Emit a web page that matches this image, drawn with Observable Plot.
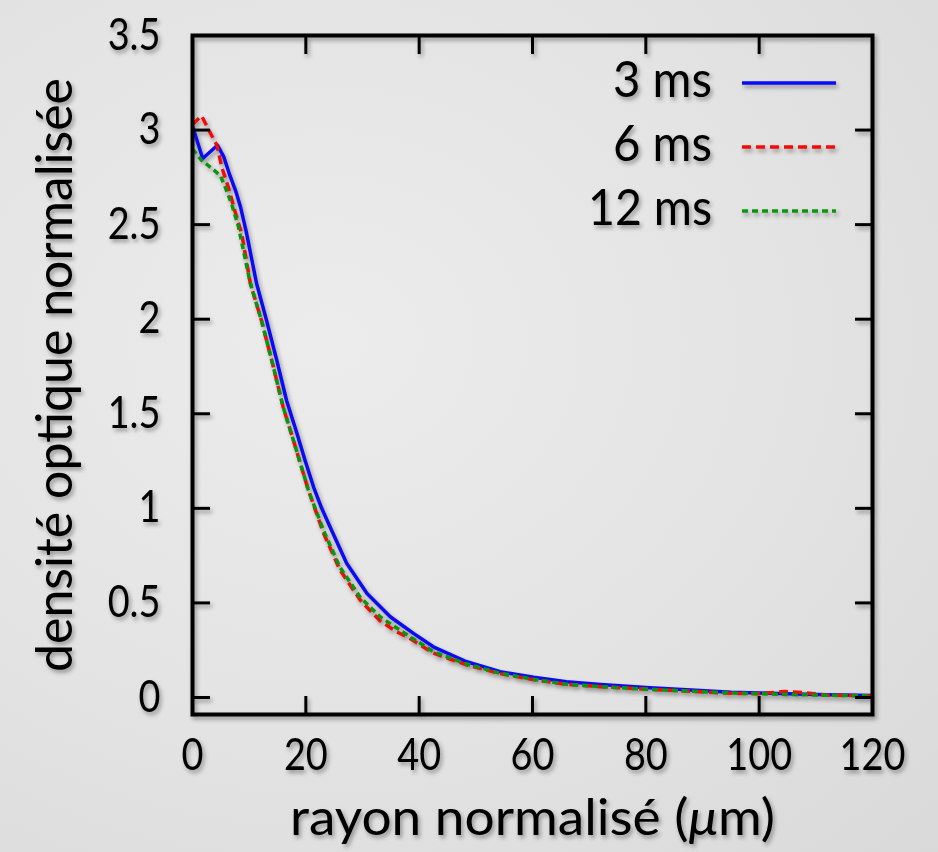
<!DOCTYPE html>
<html><head><meta charset="utf-8">
<script src="https://cdn.jsdelivr.net/npm/d3@7"></script>
<script src="https://cdn.jsdelivr.net/npm/@observablehq/plot@0.6"></script>
<style>
html,body{margin:0;padding:0;}
body{width:938px;height:852px;overflow:hidden;background:radial-gradient(ellipse at 35% 40%, #ececec 0%, #e3e3e3 55%, #d9d9d9 100%);}
#chart svg{display:block;filter:drop-shadow(2px 3px 2px rgba(0,0,0,0.35));}
</style></head><body><div id="chart"></div>
<script>
// ---- data ----
const seriesNames = ["3 ms", "6 ms", "12 ms"];
const seriesColors = ["#0a0af5", "#f50a0a", "#0a960a"];
const seriesDash = [null, "9,5", "6,4"];

const x3ms = [0, 1.8, 4.4, 5.5, 6.6, 7.6, 8.5, 9.5, 11.3, 13.1, 14.9, 16.6, 18.4, 19.9, 21.4, 22.8, 24.3, 27.2, 30.8, 34.9, 39.0, 42.5, 48.4, 54.3, 60.2, 66.0, 72.0, 80.7, 88, 95, 105, 112, 120];
const y3ms = [3.02, 2.85, 2.92, 2.86, 2.76, 2.68, 2.59, 2.46, 2.19, 1.99, 1.78, 1.57, 1.40, 1.25, 1.11, 1.00, 0.90, 0.71, 0.55, 0.427, 0.339, 0.268, 0.189, 0.136, 0.107, 0.083, 0.068, 0.052, 0.040, 0.028, 0.020, 0.015, 0.010];

const x6ms = [0, 1.6, 3.4, 4.3, 5.2, 6.3, 7.5, 8.7, 10.2, 12.2, 14.0, 16.0, 17.8, 20.45, 23.1, 26.0, 29.6, 33.1, 36.05, 38.3, 42.5, 48.4, 54.3, 60.2, 66, 72, 80.7, 88, 95, 100, 104.5, 108, 112, 120];
const y6ms = [3.03, 3.075, 2.97, 2.92, 2.80, 2.70, 2.57, 2.45, 2.19, 1.99, 1.78, 1.535, 1.36, 1.096, 0.87, 0.675, 0.515, 0.405, 0.347, 0.313, 0.235, 0.172, 0.126, 0.094, 0.07, 0.057, 0.043, 0.033, 0.022, 0.020, 0.032, 0.025, 0.012, 0.008];

const x12ms = [0, 1.6, 3.7, 4.9, 5.75, 6.9, 8.1, 10.2, 12.2, 14.0, 16.0, 17.8, 20.45, 23.1, 26.0, 29.6, 33.1, 36.6, 42.5, 48.4, 54.3, 60.2, 66, 72, 80.7, 88, 95, 105, 112, 120];
const y12ms = [2.9, 2.84, 2.79, 2.76, 2.70, 2.61, 2.49, 2.19, 1.99, 1.78, 1.535, 1.36, 1.096, 0.884, 0.69, 0.53, 0.427, 0.356, 0.242, 0.177, 0.128, 0.096, 0.07, 0.057, 0.043, 0.033, 0.024, 0.016, 0.012, 0.008];

const xTicks = [0, 20, 40, 60, 80, 100, 120];
const yTicks = [0, 0.5, 1, 1.5, 2, 2.5, 3, 3.5];
const yTickLabels = ["0", "0.5", "1", "1.5", "2", "2.5", "3", "3.5"];
const xDomain = [0, 120];
const yDomain = [-0.09, 3.5];
const xLabel = "rayon normalisé (μm)";
const yLabel = "densité optique normalisée";

// ---- build tables ----
const seriesX = [x3ms, x6ms, x12ms];
const seriesY = [y3ms, y6ms, y12ms];
const tables = seriesNames.map((name, s) => seriesX[s].map((x, i) => ({x, y: seriesY[s][i], series: name})));

function legendMark(index, scales, values, dims) {
  const g = d3.create("svg:g").attr("class", "legend");
  const right = dims.width - dims.marginRight;
  seriesNames.forEach((name, i) => {
    const yy = dims.marginTop + 48 + i * 64;
    g.append("text").attr("x", right - 160).attr("y", yy).attr("dy", "0.27em")
      .attr("text-anchor", "end").attr("font-size", 50).attr("fill", "black")
      .text(name);
    const ln = g.append("line").attr("x1", right - 130).attr("x2", right - 36)
      .attr("y1", yy).attr("y2", yy).attr("stroke", seriesColors[i]).attr("stroke-width", 3.5);
    if (seriesDash[i]) ln.attr("stroke-dasharray", seriesDash[i]);
  });
  return g.node();
}

const chart = Plot.plot({
  width: 938, height: 852,
  marginLeft: 192, marginRight: 66, marginTop: 35, marginBottom: 138,
  style: {background: "transparent", fontFamily: "Lato, 'Open Sans', sans-serif", color: "black", overflow: "visible"},
  x: {domain: xDomain},
  y: {domain: yDomain},
  marks: [
    ...tables.map((t, s) => Plot.line(t, {x: "x", y: "y", stroke: seriesColors[s], strokeWidth: 3.5,
      strokeDasharray: seriesDash[s] ?? undefined, strokeLinejoin: "round", strokeLinecap: "butt"})),
    Plot.axisX(xTicks, {anchor: "bottom", tickSize: -18, tickPadding: 42, strokeWidth: 3, label: null, fontSize: 44}),
    Plot.axisX(xTicks, {anchor: "top", tickSize: -18, tickFormat: () => "", strokeWidth: 3, label: null}),
    Plot.axisY(yTicks, {anchor: "left", tickSize: -18, tickPadding: 50, strokeWidth: 3, label: null, fontSize: 44,
      tickFormat: d => yTickLabels[yTicks.indexOf(d)]}),
    Plot.axisY(yTicks, {anchor: "right", tickSize: -18, tickFormat: () => "", strokeWidth: 3, label: null}),
    Plot.frame({stroke: "black", strokeWidth: 4}),
    Plot.text([xLabel], {frameAnchor: "bottom", dy: 104, fontSize: 50, lineAnchor: "middle", textAnchor: "middle", text: d => d}),
    Plot.text([yLabel], {frameAnchor: "left", dx: -137, rotate: -90, fontSize: 50, lineAnchor: "middle", textAnchor: "middle", text: d => d}),
    legendMark
  ]
});
document.getElementById("chart").appendChild(chart);

// condense text horizontally to mimic the narrow original face
const targets = {"3 ms": 99, "6 ms": 99, "12 ms": 124};
targets[xLabel] = 485;
targets[yLabel] = 594;
chart.querySelectorAll("text").forEach(t => {
  const s = t.textContent;
  if (!s) return;
  if (s === xLabel) {
    t.textContent = "";
    const parts = [["rayon normalisé (", null], ["μ", "italic"], ["m)", null]];
    parts.forEach(([txt, st]) => {
      const ts = document.createElementNS("http://www.w3.org/2000/svg", "tspan");
      ts.textContent = txt;
      if (st) ts.setAttribute("font-style", st);
      t.appendChild(ts);
    });
  }
  const w = t.getComputedTextLength();
  const target = targets[s] ?? w * 0.86;
  t.setAttribute("textLength", target);
  t.setAttribute("lengthAdjust", "spacingAndGlyphs");
});
</script></body></html>
